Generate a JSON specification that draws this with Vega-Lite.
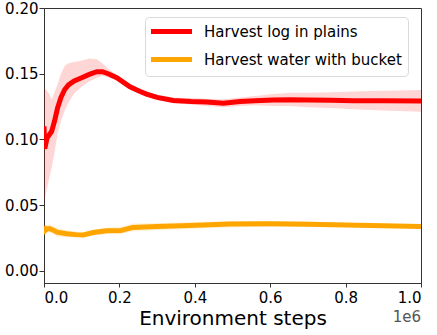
{
  "$schema": "https://vega.github.io/schema/vega-lite/v6.json",
  "width": 377,
  "height": 275,
  "autosize": {"type": "none"},
  "padding": {"left": 44, "top": 8, "right": 16, "bottom": 52},
  "config": {
    "font": "DejaVu Sans",
    "view": {"stroke": "#333333", "strokeWidth": 1},
    "axis": {
      "domainColor": "#333333",
      "tickColor": "#333333",
      "tickSize": 4,
      "labelColor": "#000000",
      "labelFontSize": 15,
      "labelFont": "DejaVu Sans",
      "titleFont": "DejaVu Sans",
      "grid": false
    }
  },
  "datasets": {
    "runs": [
      {"step": 0, "task": "Harvest log in plains", "mean": 0.110, "lo": 0.050, "hi": 0.139},
      {"step": 2000, "task": "Harvest log in plains", "mean": 0.093, "lo": 0.055, "hi": 0.139},
      {"step": 8000, "task": "Harvest log in plains", "mean": 0.101, "lo": 0.063, "hi": 0.137},
      {"step": 15000, "task": "Harvest log in plains", "mean": 0.104, "lo": 0.072, "hi": 0.134},
      {"step": 20000, "task": "Harvest log in plains", "mean": 0.106, "lo": 0.078, "hi": 0.130},
      {"step": 28000, "task": "Harvest log in plains", "mean": 0.114, "lo": 0.090, "hi": 0.136},
      {"step": 36000, "task": "Harvest log in plains", "mean": 0.124, "lo": 0.104, "hi": 0.142},
      {"step": 45000, "task": "Harvest log in plains", "mean": 0.132, "lo": 0.114, "hi": 0.150},
      {"step": 55000, "task": "Harvest log in plains", "mean": 0.138, "lo": 0.122, "hi": 0.156},
      {"step": 65000, "task": "Harvest log in plains", "mean": 0.1415, "lo": 0.128, "hi": 0.158},
      {"step": 80000, "task": "Harvest log in plains", "mean": 0.1445, "lo": 0.135, "hi": 0.159},
      {"step": 100000, "task": "Harvest log in plains", "mean": 0.147, "lo": 0.140, "hi": 0.160},
      {"step": 120000, "task": "Harvest log in plains", "mean": 0.1495, "lo": 0.144, "hi": 0.1615},
      {"step": 140000, "task": "Harvest log in plains", "mean": 0.1515, "lo": 0.147, "hi": 0.161},
      {"step": 155000, "task": "Harvest log in plains", "mean": 0.1515, "lo": 0.1485, "hi": 0.158},
      {"step": 170000, "task": "Harvest log in plains", "mean": 0.150, "lo": 0.1475, "hi": 0.154},
      {"step": 193000, "task": "Harvest log in plains", "mean": 0.147, "lo": 0.145, "hi": 0.149},
      {"step": 228000, "task": "Harvest log in plains", "mean": 0.140, "lo": 0.138, "hi": 0.1425},
      {"step": 255000, "task": "Harvest log in plains", "mean": 0.1365, "lo": 0.1345, "hi": 0.1385},
      {"step": 272000, "task": "Harvest log in plains", "mean": 0.1345, "lo": 0.1325, "hi": 0.1365},
      {"step": 300000, "task": "Harvest log in plains", "mean": 0.132, "lo": 0.130, "hi": 0.134},
      {"step": 343000, "task": "Harvest log in plains", "mean": 0.1296, "lo": 0.1275, "hi": 0.132},
      {"step": 390000, "task": "Harvest log in plains", "mean": 0.1288, "lo": 0.1265, "hi": 0.1315},
      {"step": 432000, "task": "Harvest log in plains", "mean": 0.1284, "lo": 0.1255, "hi": 0.131},
      {"step": 476000, "task": "Harvest log in plains", "mean": 0.1276, "lo": 0.1245, "hi": 0.1305},
      {"step": 520000, "task": "Harvest log in plains", "mean": 0.1288, "lo": 0.1255, "hi": 0.132},
      {"step": 560000, "task": "Harvest log in plains", "mean": 0.1295, "lo": 0.126, "hi": 0.133},
      {"step": 607000, "task": "Harvest log in plains", "mean": 0.130, "lo": 0.1255, "hi": 0.1345},
      {"step": 653000, "task": "Harvest log in plains", "mean": 0.1302, "lo": 0.1255, "hi": 0.1355},
      {"step": 700000, "task": "Harvest log in plains", "mean": 0.130, "lo": 0.1245, "hi": 0.1355},
      {"step": 760000, "task": "Harvest log in plains", "mean": 0.1298, "lo": 0.124, "hi": 0.136},
      {"step": 820000, "task": "Harvest log in plains", "mean": 0.1294, "lo": 0.123, "hi": 0.1365},
      {"step": 900000, "task": "Harvest log in plains", "mean": 0.1294, "lo": 0.122, "hi": 0.137},
      {"step": 1000000, "task": "Harvest log in plains", "mean": 0.1293, "lo": 0.121, "hi": 0.1377},
      {"step": 0, "task": "Harvest water with bucket", "mean": 0.034, "lo": 0.030, "hi": 0.036},
      {"step": 2000, "task": "Harvest water with bucket", "mean": 0.0305, "lo": 0.027, "hi": 0.035},
      {"step": 8000, "task": "Harvest water with bucket", "mean": 0.032, "lo": 0.029, "hi": 0.035},
      {"step": 15000, "task": "Harvest water with bucket", "mean": 0.0322, "lo": 0.029, "hi": 0.0355},
      {"step": 25000, "task": "Harvest water with bucket", "mean": 0.031, "lo": 0.028, "hi": 0.034},
      {"step": 34000, "task": "Harvest water with bucket", "mean": 0.0295, "lo": 0.026, "hi": 0.033},
      {"step": 60000, "task": "Harvest water with bucket", "mean": 0.0282, "lo": 0.0255, "hi": 0.031},
      {"step": 85000, "task": "Harvest water with bucket", "mean": 0.0276, "lo": 0.0255, "hi": 0.030},
      {"step": 104000, "task": "Harvest water with bucket", "mean": 0.0274, "lo": 0.0255, "hi": 0.0295},
      {"step": 131000, "task": "Harvest water with bucket", "mean": 0.0292, "lo": 0.027, "hi": 0.0315},
      {"step": 166000, "task": "Harvest water with bucket", "mean": 0.0306, "lo": 0.028, "hi": 0.033},
      {"step": 205000, "task": "Harvest water with bucket", "mean": 0.0308, "lo": 0.028, "hi": 0.0335},
      {"step": 218000, "task": "Harvest water with bucket", "mean": 0.0318, "lo": 0.029, "hi": 0.0345},
      {"step": 235000, "task": "Harvest water with bucket", "mean": 0.0330, "lo": 0.030, "hi": 0.036},
      {"step": 299000, "task": "Harvest water with bucket", "mean": 0.0337, "lo": 0.031, "hi": 0.0365},
      {"step": 387000, "task": "Harvest water with bucket", "mean": 0.0345, "lo": 0.032, "hi": 0.037},
      {"step": 493000, "task": "Harvest water with bucket", "mean": 0.0356, "lo": 0.033, "hi": 0.038},
      {"step": 600000, "task": "Harvest water with bucket", "mean": 0.0358, "lo": 0.0335, "hi": 0.038},
      {"step": 700000, "task": "Harvest water with bucket", "mean": 0.0355, "lo": 0.0335, "hi": 0.0375},
      {"step": 800000, "task": "Harvest water with bucket", "mean": 0.0350, "lo": 0.0335, "hi": 0.0365},
      {"step": 900000, "task": "Harvest water with bucket", "mean": 0.0344, "lo": 0.033, "hi": 0.036},
      {"step": 1000000, "task": "Harvest water with bucket", "mean": 0.0337, "lo": 0.0325, "hi": 0.035}
    ],
    "offset": [{"step": 1000000, "label": "1e6"}]
  },
  "layer": [
    {
      "data": {"name": "runs"},
      "mark": {"type": "area", "fillOpacity": 0.16, "clip": true},
      "encoding": {
        "x": {"field": "step", "type": "quantitative"},
        "y": {"field": "lo", "type": "quantitative"},
        "y2": {"field": "hi"},
        "color": {
          "field": "task",
          "type": "nominal",
          "scale": {"domain": ["Harvest log in plains", "Harvest water with bucket"], "range": ["#ff0000", "#ffa500"]}
        }
      }
    },
    {
      "data": {"name": "runs"},
      "mark": {"type": "line", "strokeWidth": 5, "clip": true},
      "encoding": {
        "x": {
          "field": "step",
          "type": "quantitative",
          "scale": {"domain": [0, 1000000], "nice": false, "zero": false},
          "axis": {
            "values": [0, 200000, 400000, 600000, 800000, 1000000],
            "labelExpr": "format(datum.value / 1000000, '.1f')",
            "labelPadding": 3,
            "title": "Environment steps",
            "titleFontSize": 20,
            "titleFontWeight": "normal",
            "titleColor": "#000000",
            "titlePadding": 3
          }
        },
        "y": {
          "field": "mean",
          "type": "quantitative",
          "scale": {"domain": [-0.0092, 0.2], "nice": false, "zero": false},
          "axis": {
            "values": [0, 0.05, 0.1, 0.15, 0.2],
            "format": ".2f",
            "tickSize": 5,
            "labelPadding": 1,
            "title": null
          }
        },
        "color": {
          "field": "task",
          "type": "nominal",
          "scale": {"domain": ["Harvest log in plains", "Harvest water with bucket"], "range": ["#ff0000", "#ffa500"]},
          "legend": {
            "title": null,
            "orient": "none",
            "legendX": 101,
            "legendY": 9,
            "symbolType": "M-3.417,0L3.417,0",
            "symbolSize": 144,
            "symbolStrokeWidth": 5,
            "symbolOpacity": 1,
            "symbolOffset": 12,
            "labelFontSize": 15,
            "labelFont": "DejaVu Sans",
            "labelColor": "#000000",
            "labelOffset": 24,
            "labelLimit": 400,
            "rowPadding": 7,
            "padding": 6,
            "strokeColor": "#d9d9d9",
            "fillColor": "#ffffff",
            "cornerRadius": 4
          }
        }
      }
    },
    {
      "data": {"name": "offset"},
      "mark": {"type": "text", "align": "right", "baseline": "alphabetic", "dy": 39, "fontSize": 15, "color": "#555555", "font": "DejaVu Sans"},
      "encoding": {
        "x": {"field": "step", "type": "quantitative"},
        "y": {"datum": -0.0092},
        "text": {"field": "label"}
      }
    }
  ]
}
